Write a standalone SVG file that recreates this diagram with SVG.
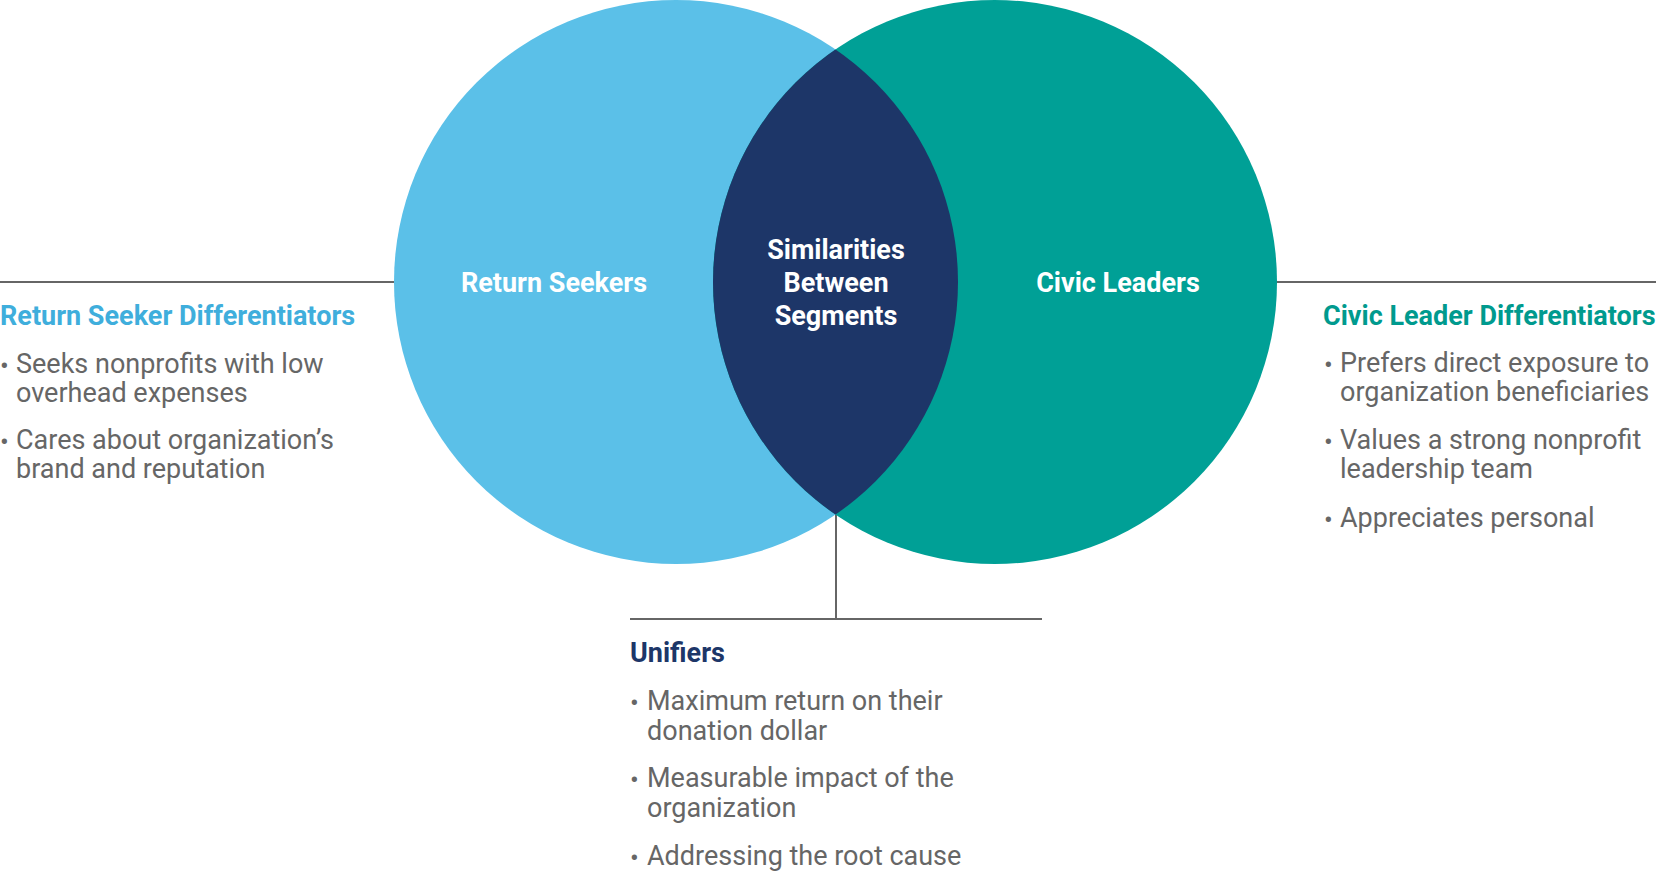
<svg xmlns="http://www.w3.org/2000/svg" width="1656" height="875" viewBox="0 0 1656 875">
<style>
.lbl{font-family:Roboto,"Liberation Sans",sans-serif;font-weight:700;font-size:27px;fill:#fff;text-anchor:middle}
.hdr{font-family:Roboto,"Liberation Sans",sans-serif;font-weight:700;font-size:27px}
.txt{font-family:Roboto,"Liberation Sans",sans-serif;font-size:27px;fill:#666666}
.bul{font-family:Roboto,"Liberation Sans",sans-serif;font-size:26px;fill:#666666}
.ln{stroke:#666666;stroke-width:2;fill:none}
</style>
<defs>
<clipPath id="clipL"><circle cx="676" cy="282" r="282"/></clipPath>
</defs>
<rect width="1656" height="875" fill="#ffffff"/>
<g id="connectors">
<line class="ln" x1="0" y1="282" x2="394" y2="282"/>
<line class="ln" x1="1277" y1="282" x2="1656" y2="282"/>
<line class="ln" x1="836" y1="514" x2="836" y2="619"/>
<line class="ln" x1="630" y1="619" x2="1042" y2="619"/>
</g>
<g id="return-seekers">
<circle cx="676" cy="282" r="282" fill="#5BC0E8"/>
</g>
<g id="civic-leaders">
<circle cx="995" cy="282" r="282" fill="#00A096"/>
</g>
<g id="similarities">
<circle cx="995" cy="282" r="282" fill="#1D3668" clip-path="url(#clipL)"/>
</g>
<g id="circle-labels">
<text class="lbl" x="554" y="292">Return Seekers</text>
<text class="lbl" x="1118" y="292">Civic Leaders</text>
<text class="lbl" x="836" y="259">Similarities</text>
<text class="lbl" x="836" y="292">Between</text>
<text class="lbl" x="836" y="325">Segments</text>
</g>
<g id="return-seeker-differentiators">
<text class="hdr" x="0" y="325" fill="#3FAEDC">Return Seeker Differentiators</text>
<text class="bul" x="0" y="375">•</text>
<text class="txt" x="16" y="373">Seeks nonprofits with low</text>
<text class="txt" x="16" y="402">overhead expenses</text>
<text class="bul" x="0" y="451">•</text>
<text class="txt" x="16" y="449">Cares about organization’s</text>
<text class="txt" x="16" y="478">brand and reputation</text>
</g>
<g id="civic-leader-differentiators">
<text class="hdr" x="1323" y="325" fill="#009A8E">Civic Leader Differentiators</text>
<text class="bul" x="1324" y="374">•</text>
<text class="txt" x="1340" y="372">Prefers direct exposure to</text>
<text class="txt" x="1340" y="401">organization beneficiaries</text>
<text class="bul" x="1324" y="451">•</text>
<text class="txt" x="1340" y="449">Values a strong nonprofit</text>
<text class="txt" x="1340" y="478">leadership team</text>
<text class="bul" x="1324" y="529">•</text>
<text class="txt" x="1340" y="527">Appreciates personal</text>
</g>
<g id="unifiers">
<text class="hdr" x="630" y="662" fill="#1D3668">Unifiers</text>
<text class="bul" x="630" y="712">•</text>
<text class="txt" x="647" y="710">Maximum return on their</text>
<text class="txt" x="647" y="740">donation dollar</text>
<text class="bul" x="630" y="789">•</text>
<text class="txt" x="647" y="787">Measurable impact of the</text>
<text class="txt" x="647" y="817">organization</text>
<text class="bul" x="630" y="867">•</text>
<text class="txt" x="647" y="865">Addressing the root cause</text>
</g>
</svg>
